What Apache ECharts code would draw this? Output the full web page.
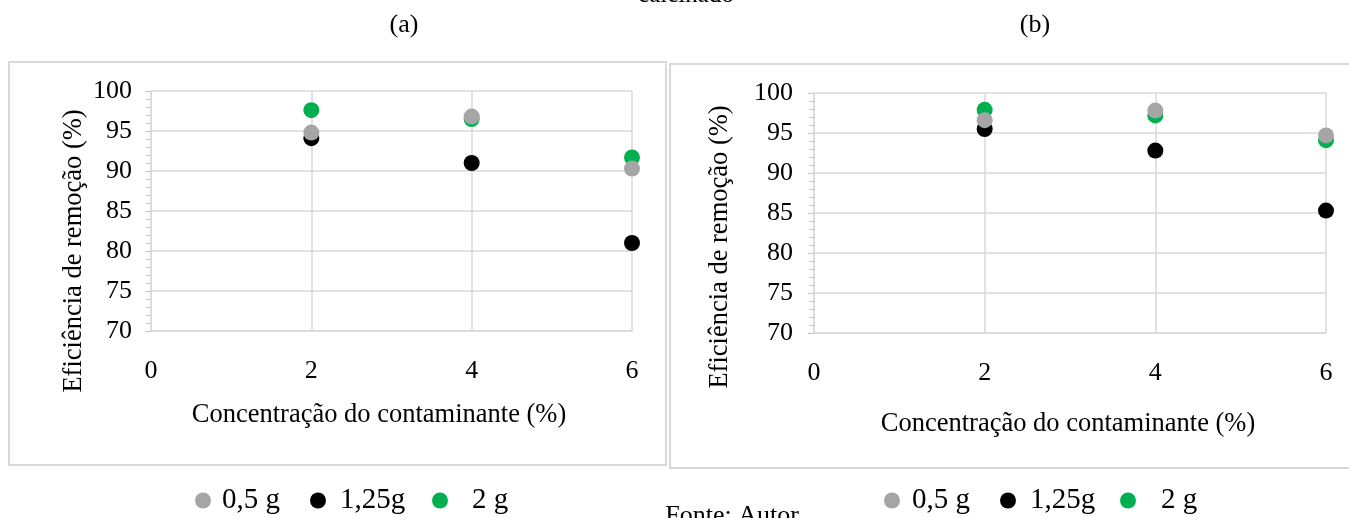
<!DOCTYPE html>
<html>
<head>
<meta charset="utf-8">
<script src="https://cdn.jsdelivr.net/npm/echarts@6/dist/echarts.min.js"></script>
<style>
html,body{margin:0;padding:0;background:#fff;}
#c{width:1349px;height:518px;}
</style>
</head>
<body>
<div id="c"></div>
<script>
// ---- data ----
const seriesNames = ['0,5 g', '1,25g', '2 g'];
const xValues = [2, 4, 6];
const xTicks = [0, 2, 4, 6];
const yTicks = [70, 75, 80, 85, 90, 95, 100];
// panel (a)
const a_05 = [94.8, 96.8, 90.3];
const a_125 = [94.1, 91.0, 81.0];
const a_2 = [97.6, 96.5, 91.7];
// panel (b)
const b_05 = [96.6, 97.8, 94.7];
const b_125 = [95.5, 92.8, 85.3];
const b_2 = [97.9, 97.2, 94.1];
const panelLabels = ['(a)', '(b)'];
const xTitle = 'Concentração do contaminante (%)';
const yTitle = 'Eficiência de remoção (%)';
const topText = 'calcinado';
const sourceText = 'Fonte: Autor';

// ---- styles ----
const FONT = '"Liberation Serif", "Times New Roman", serif';
const colors = {'0,5 g': '#A5A5A5', '1,25g': '#000000', '2 g': '#00B050'};
const gridCol = '#d9d9d9';

function pairs(vals) { return xValues.map((x, i) => [x, vals[i]]); }

const grids = [
  {left: 151, top: 91, width: 481, height: 240},
  {left: 814, top: 93, width: 512, height: 240}
];

function xAxisFor(gi) {
  return {
    type: 'value', gridIndex: gi, min: xTicks[0], max: xTicks[xTicks.length - 1], interval: 2,
    axisLine: {show: true, lineStyle: {color: gridCol, width: 1.5}},
    axisTick: {show: false},
    splitLine: {show: true, lineStyle: {color: gridCol, width: 1.5}},
    axisLabel: {fontFamily: FONT, fontSize: 26, color: '#000', margin: 27,
      formatter: v => xTicks.includes(v) ? String(v) : ''}
  };
}
function yAxisFor(gi, margin) {
  return {
    type: 'value', gridIndex: gi, min: yTicks[0], max: yTicks[yTicks.length - 1], interval: 5,
    axisLine: {show: true, lineStyle: {color: gridCol, width: 1.5}},
    axisTick: {show: true, inside: false, length: 6, lineStyle: {color: '#c8c8c8', width: 1}},
    minorTick: {show: true, splitNumber: 5, length: 5, lineStyle: {color: '#c8c8c8', width: 1}},
    splitLine: {show: true, lineStyle: {color: gridCol, width: 1.5}},
    axisLabel: {fontFamily: FONT, fontSize: 26, color: '#000', margin: margin,
      formatter: v => yTicks.includes(v) ? String(v) : ''}
  };
}

function scatter(name, vals, gi, z) {
  return {
    type: 'scatter', name: name, xAxisIndex: gi, yAxisIndex: gi,
    data: pairs(vals), symbol: 'circle', symbolSize: 16, z: z,
    itemStyle: {color: colors[name], opacity: 1},
    emphasis: {disabled: true}
  };
}

// legends: one component per entry for exact placement
const legendPos = [
  [{x: 195, pad: 6}, {x: 310, pad: 9}, {x: 432, pad: 19}],
  [{x: 884, pad: 7}, {x: 1000, pad: 9}, {x: 1120, pad: 20}]
];
const legends = [];
legendPos.forEach(row => row.forEach((p, i) => {
  legends.push({
    data: [{name: seriesNames[i], icon: 'circle'}],
    left: p.x, top: 486, padding: 0, itemWidth: 16, itemHeight: 16, selectedMode: false,
    textStyle: {fontFamily: FONT, fontSize: 29, color: '#000', padding: [0, 0, 0, p.pad]}
  });
}));

function txt(x, y, text, size, rot) {
  return {
    type: 'text', x: x, y: y, rotation: rot || 0, silent: true,
    style: {text: text, fontFamily: FONT, fontSize: size, fill: '#000', align: 'center', verticalAlign: 'middle'}
  };
}

const graphic = [
  {type: 'rect', shape: {x: 9, y: 62, width: 657, height: 403}, style: {fill: 'none', stroke: gridCol, lineWidth: 2}, silent: true, z: -1},
  {type: 'rect', shape: {x: 670, y: 64, width: 700, height: 404}, style: {fill: 'none', stroke: gridCol, lineWidth: 2}, silent: true, z: -1},
  txt(686, -5, topText, 25),
  txt(404, 25, panelLabels[0], 26),
  txt(1035, 25, panelLabels[1], 26),
  txt(379, 415, xTitle, 26.5),
  txt(1068, 424, xTitle, 26.5),
  txt(74, 251, yTitle, 26.5, Math.PI / 2),
  txt(720, 247, yTitle, 26.5, Math.PI / 2),
  txt(732, 516, sourceText, 26)
];

const option = {
  animation: false,
  backgroundColor: '#ffffff',
  grid: grids,
  xAxis: [xAxisFor(0), xAxisFor(1)],
  yAxis: [yAxisFor(0, 19), yAxisFor(1, 21)],
  legend: legends,
  graphic: graphic,
  series: [
    scatter('1,25g', a_125, 0, 2),
    scatter('2 g', a_2, 0, 3),
    scatter('0,5 g', a_05, 0, 4),
    scatter('1,25g', b_125, 1, 2),
    scatter('2 g', b_2, 1, 3),
    scatter('0,5 g', b_05, 1, 4)
  ]
};

const chart = echarts.init(document.getElementById('c'), null, {renderer: 'canvas'});
chart.setOption(option);
</script>
</body>
</html>
